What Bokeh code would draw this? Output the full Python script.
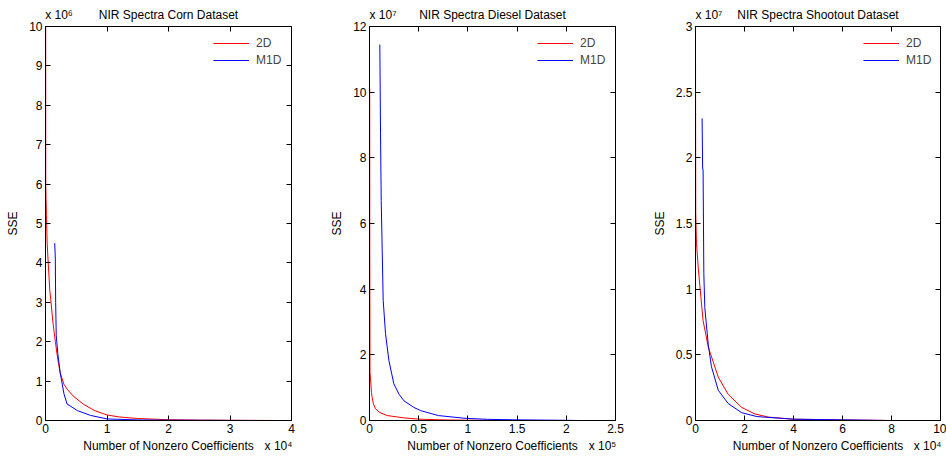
from bokeh.plotting import figure
from bokeh.layouts import row
from bokeh.models import (Range1d, FixedTicker, LinearAxis, Legend,
                          LegendItem, CustomJSTickFormatter)
from bokeh.embed import file_html
from bokeh.resources import INLINE

FONT = "Liberation Sans"

# ---------------- data (x in units of the axis multiplier, y likewise) -------------
titles = ["NIR Spectra Corn Dataset", "NIR Spectra Diesel Dataset", "NIR Spectra Shootout Dataset"]
series_names = ["2D", "M1D"]
x_label = "Number of Nonzero Coefficients"
y_label = "SSE"

# Corn: x * 1e4, y * 1e6
corn_2d_x = [0.002, 0.004, 0.015, 0.027, 0.044, 0.07, 0.09, 0.12, 0.16, 0.2, 0.24, 0.3, 0.35,
             0.45, 0.62, 0.8, 1.0, 1.2, 1.5, 2.0, 2.5, 3.0, 3.5, 3.8]
corn_2d_y = [12.0, 6.0, 5.2, 4.5, 4.0, 3.3, 3.0, 2.5, 2.0, 1.55, 1.2, 0.92, 0.8,
             0.62, 0.41, 0.25, 0.14, 0.09, 0.05, 0.02, 0.01, 0.005, 0.002, 0.0]
corn_m1d_x = [0.15, 0.16, 0.165, 0.175, 0.2, 0.24, 0.3, 0.35, 0.52, 0.73, 1.0, 1.5, 2.0, 3.0, 3.5]
corn_m1d_y = [4.5, 4.1, 3.0, 2.15, 1.7, 1.2, 0.68, 0.42, 0.25, 0.13, 0.04, 0.015, 0.008, 0.003, 0.0]

# Diesel: x * 1e5, y * 1e7
diesel_2d_x = [0.002, 0.003, 0.005, 0.01, 0.02, 0.027, 0.04, 0.061, 0.1, 0.18, 0.35, 0.5, 0.8, 1.0, 1.5]
diesel_2d_y = [10.1, 5.0, 1.47, 1.3, 0.85, 0.7, 0.5, 0.36, 0.25, 0.15, 0.08, 0.04, 0.015, 0.01, 0.0]
diesel_m1d_x = [0.105, 0.112, 0.119, 0.129, 0.139, 0.163, 0.197, 0.247, 0.3, 0.35, 0.45, 0.52,
                0.7, 0.96, 1.2, 1.5, 2.0, 2.13]
diesel_m1d_y = [11.45, 8.75, 6.7, 5.2, 3.66, 2.64, 1.83, 1.12, 0.8, 0.6, 0.4, 0.3,
                0.15, 0.07, 0.035, 0.02, 0.006, 0.0]

# Shootout: x * 1e4, y * 1e7
shoot_2d_x = [0.0, 0.01, 0.04, 0.11, 0.18, 0.31, 0.52, 0.93, 1.33, 1.88, 2.42, 3.0, 4.0, 6.0, 8.0]
shoot_2d_y = [2.8, 1.58, 1.35, 1.17, 1.02, 0.76, 0.56, 0.33, 0.2, 0.1, 0.05, 0.025, 0.01, 0.004, 0.0]
shoot_m1d_x = [0.27, 0.29, 0.31, 0.34, 0.38, 0.52, 0.65, 0.93, 1.33, 1.88, 2.5, 4.0, 6.0, 7.87]
shoot_m1d_y = [2.3, 1.93, 1.9, 1.12, 0.86, 0.58, 0.41, 0.23, 0.13, 0.06, 0.03, 0.01, 0.005, 0.0]

x_ticks = [[0, 1, 2, 3, 4], [0, 0.5, 1, 1.5, 2, 2.5], [0, 2, 4, 6, 8, 10]]
y_ticks = [list(range(0, 11)), [0, 2, 4, 6, 8, 10, 12], [0, 0.5, 1, 1.5, 2, 2.5, 3]]
x_mult = ["x 10\u2074", "x 10\u2075", "x 10\u2074"]
y_mult = ["x 10\u2076", "x 10\u2077", "x 10\u2077"]

fmt_code = "return String(Math.round(tick*1000)/1000);"
label_code = "return labels[index];"

FRAME_W = 246


def text_axis(positions, labels, standoff):
    """An axis with no line and no tick marks, used only to set texts outside the frame."""
    ax = LinearAxis(ticker=FixedTicker(ticks=positions),
                    formatter=CustomJSTickFormatter(args=dict(labels=labels), code=label_code),
                    major_tick_in=0, major_tick_out=0, minor_tick_line_color=None,
                    major_tick_line_color=None, axis_line_color=None,
                    major_label_standoff=standoff, major_label_text_font=FONT,
                    major_label_text_font_size="12px", major_label_text_color="black")
    return ax


def make_panel(i, x2d, y2d, xm, ym, width, right_border):
    xmax = x_ticks[i][-1]
    ymax = y_ticks[i][-1]
    p = figure(width=width, height=459, x_range=Range1d(0, xmax), y_range=Range1d(0, ymax),
               output_backend="svg", toolbar_location=None,
               min_border_left=45, min_border_right=right_border,
               min_border_top=26, min_border_bottom=39)
    p.grid.visible = False
    p.outline_line_color = "black"
    p.outline_line_width = 1
    p.background_fill_color = "white"
    p.border_fill_color = "white"

    for ax, ticks in ((p.xaxis[0], x_ticks[i]), (p.yaxis[0], y_ticks[i])):
        ax.ticker = FixedTicker(ticks=ticks)
        ax.formatter = CustomJSTickFormatter(code=fmt_code)
        ax.major_tick_in = 5
        ax.major_tick_out = 0
        ax.minor_tick_line_color = None
        ax.axis_line_color = "black"
        ax.major_tick_line_color = "black"
        ax.major_label_text_font = FONT
        ax.major_label_text_font_size = "12px"
        ax.major_label_text_color = "black"
        ax.major_label_standoff = 3
        ax.axis_label_text_font = FONT
        ax.axis_label_text_font_size = "12px"
        ax.axis_label_text_font_style = "normal"
        ax.axis_label_text_color = "black"
    p.yaxis[0].axis_label = y_label
    p.yaxis[0].axis_label_standoff = 6

    # inward ticks on the right and top edges (box like the original), no labels drawn
    for loc, ticks in (("right", y_ticks[i]), ("above", x_ticks[i])):
        ax = LinearAxis(ticker=FixedTicker(ticks=ticks), major_tick_in=5, major_tick_out=0,
                        minor_tick_line_color=None, major_label_text_font_size="0px",
                        major_label_text_color=None,
                        major_label_standoff=0, axis_line_color="black")
        p.add_layout(ax, loc)

    # title row: y multiplier at top-left, title centred over the frame
    ymult_pos = 13.5 / FRAME_W * xmax
    p.add_layout(text_axis([ymult_pos, xmax / 2], [y_mult[i], titles[i]], 5), "above")
    # x-label row: axis title centred, x multiplier at bottom-right
    xmult_pos = xmax - 13.0 / FRAME_W * xmax
    p.add_layout(text_axis([xmax / 2, xmult_pos], [x_label, x_mult[i]], 3), "below")

    r1 = p.line(x2d, y2d, line_color="#ff0000", line_width=1)
    r2 = p.line(xm, ym, line_color="#0000ff", line_width=1)

    legend = Legend(items=[LegendItem(label=series_names[0], renderers=[r1]),
                           LegendItem(label=series_names[1], renderers=[r2])],
                    location=(168, 353), border_line_color=None, background_fill_alpha=0,
                    glyph_width=36, glyph_height=14, label_standoff=7, spacing=3,
                    padding=0, margin=0, label_text_font=FONT, label_text_font_size="12px",
                    label_height=14)
    p.add_layout(legend)
    return p


p1 = make_panel(0, corn_2d_x, corn_2d_y, corn_m1d_x, corn_m1d_y, 324, 33)
p2 = make_panel(1, diesel_2d_x, diesel_2d_y, diesel_m1d_x, diesel_m1d_y, 325, 34)
p3 = make_panel(2, shoot_2d_x, shoot_2d_y, shoot_m1d_x, shoot_m1d_y, 297, 6)

layout = row(p1, p2, p3, spacing=0)
open("out.html", "w").write(file_html(layout, INLINE))
